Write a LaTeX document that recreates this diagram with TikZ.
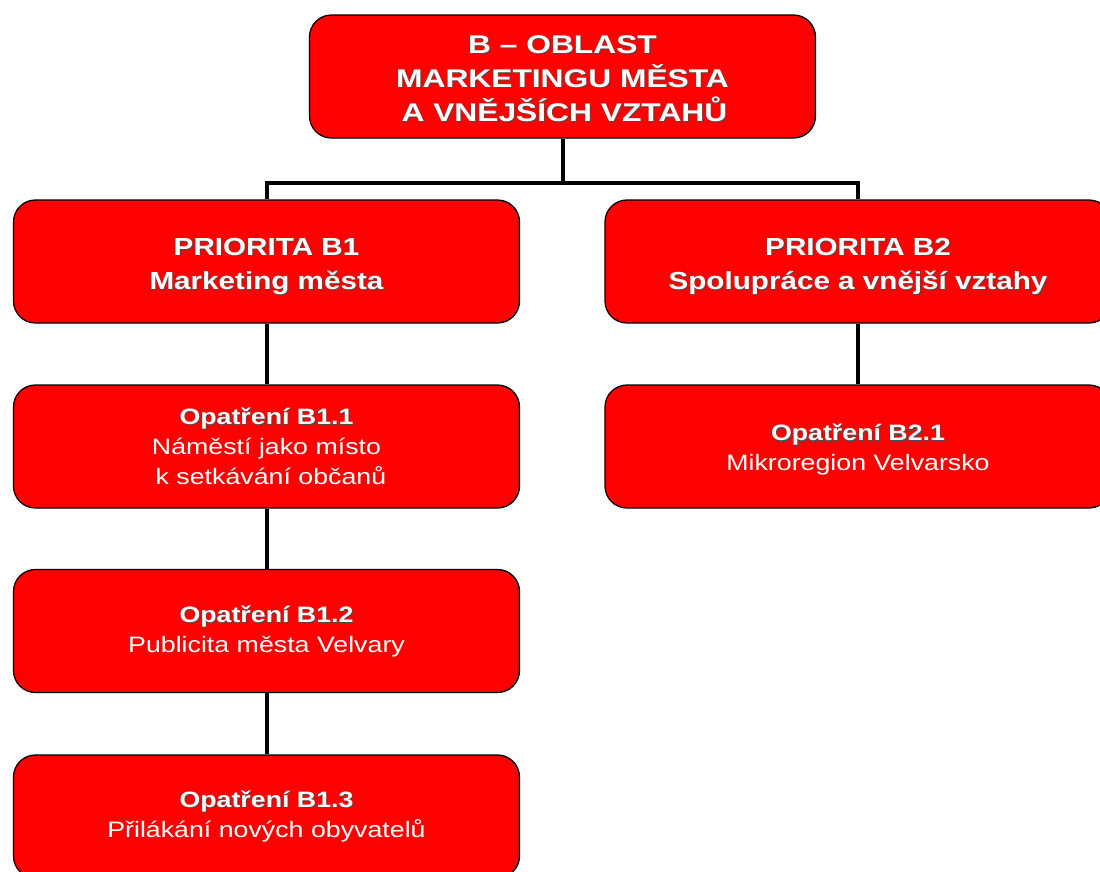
\documentclass[tikz,border=0pt]{standalone}
\usepackage{fontspec}
\setmainfont[FakeStretch=1.2,Ligatures=TeX]{Liberation Sans}
\newfontfamily\titlefont[FakeStretch=1.24,Ligatures=TeX]{Liberation Sans}
\usetikzlibrary{positioning}
\newcommand\shd[1]{\makebox[0pt][l]{\hspace{1.1pt}\raisebox{-1.1pt}{\color{black!70}#1}}#1}

\begin{document}
\begin{tikzpicture}[x=1pt,y=-1pt,
  box/.style={draw=black,line width=1.3pt,fill=red,rounded corners=22pt,
    minimum width=506pt,minimum height=123pt,inner sep=0pt,text=white,align=center},
  link/.style={line width=4pt,draw=black}]
\clip (0,0) rectangle (1100,871);
\fill[white] (0,0) rectangle (1100,871);
\node[box,font=\titlefont\bfseries\fontsize{25.6}{34}\selectfont] (oblast) at (562.5,76.5)
  {\rule{0pt}{22.6pt}\shd{B – OBLAST}\\\shd{MARKETINGU MĚSTA}\\\hspace*{0.15em}\shd{A VNĚJŠÍCH VZTAHŮ}};
\node[box,font=\bfseries\fontsize{24.7}{34}\selectfont] (b1) at (266.5,261.5)
  {\rule{0pt}{28pt}\shd{PRIORITA B1}\\\shd{Marketing města}};
\node[box,font=\bfseries\fontsize{24.7}{34}\selectfont] (b2) at (858,261.5)
  {\rule{0pt}{28pt}\shd{PRIORITA B2}\\\shd{Spolupráce a vnější vztahy}};
\node[box,font=\fontsize{22.3}{30}\selectfont] (b11) at (266.5,446.5)
  {\textbf{\shd{Opatření B1.1}}\\Náměstí jako místo\\\hspace*{0.4em}k setkávání občanů};
\node[box,font=\fontsize{22.3}{30}\selectfont] (b21) at (858,446.5)
  {\rule{0pt}{23.5pt}\textbf{\shd{Opatření B2.1}}\\Mikroregion Velvarsko};
\node[box,font=\fontsize{22.3}{30}\selectfont] (b12) at (266.5,631)
  {\textbf{\shd{Opatření B1.2}}\\Publicita města Velvary};
\node[box,font=\fontsize{22.3}{30}\selectfont] (b13) at (266.5,816.5)
  {\textbf{\shd{Opatření B1.3}}\\Přilákání nových obyvatelů};
\coordinate (split) at (562.5,183);
\draw[link] (oblast.south) -- (split);
\draw[link] (b1.north) |- (split) -| (b2.north);
\foreach \a/\b in {b1/b11,b11/b12,b12/b13,b2/b21}
  \draw[link] (\a.south) -- (\b.north);
\end{tikzpicture}
\end{document}
